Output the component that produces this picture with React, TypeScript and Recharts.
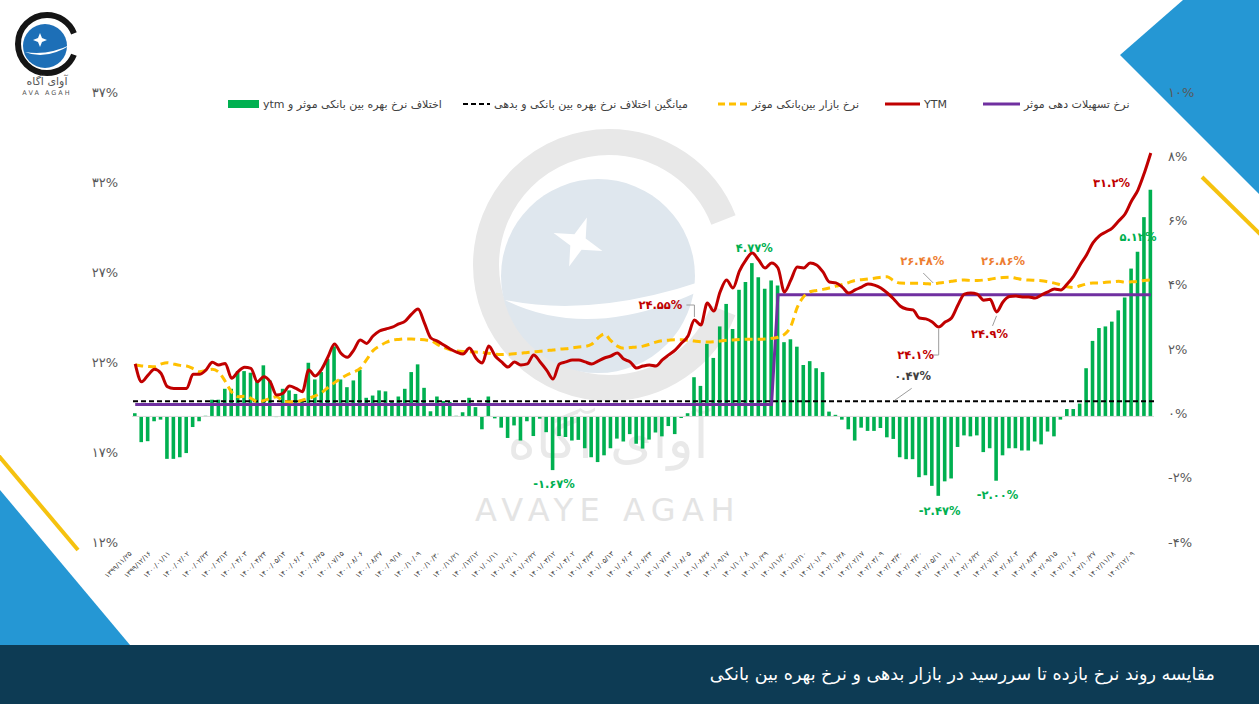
import React from "react";
import {
  ComposedChart,
  Bar,
  Line,
  XAxis,
  YAxis,
  ReferenceLine,
  ReferenceDot,
} from "recharts";

// x-axis labels, one every third weekly point
const tickLabels = [
  "۱۳۹۹/۱۱/۲۵", "۱۳۹۹/۱۲/۱۶", "۱۴۰۰/۰۱/۱۱", "۱۴۰۰/۰۲/۰۲", "۱۴۰۰/۰۲/۲۳", "۱۴۰۰/۰۳/۱۳",
  "۱۴۰۰/۰۴/۰۳", "۱۴۰۰/۰۴/۲۴", "۱۴۰۰/۰۵/۱۴", "۱۴۰۰/۰۶/۰۴", "۱۴۰۰/۰۶/۲۵", "۱۴۰۰/۰۷/۱۵",
  "۱۴۰۰/۰۸/۰۶", "۱۴۰۰/۰۸/۲۷", "۱۴۰۰/۰۹/۱۸", "۱۴۰۰/۱۰/۰۹", "۱۴۰۰/۱۰/۳۰", "۱۴۰۰/۱۱/۲۱",
  "۱۴۰۰/۱۲/۱۲", "۱۴۰۱/۰۱/۱۱", "۱۴۰۱/۰۲/۰۱", "۱۴۰۱/۰۲/۲۲", "۱۴۰۱/۰۳/۱۲", "۱۴۰۱/۰۴/۰۲",
  "۱۴۰۱/۰۴/۲۳", "۱۴۰۱/۰۵/۱۳", "۱۴۰۱/۰۶/۰۳", "۱۴۰۱/۰۶/۲۴", "۱۴۰۱/۰۷/۱۴", "۱۴۰۱/۰۸/۰۵",
  "۱۴۰۱/۰۸/۲۶", "۱۴۰۱/۰۹/۱۷", "۱۴۰۱/۱۰/۰۸", "۱۴۰۱/۱۰/۲۹", "۱۴۰۱/۱۱/۲۰", "۱۴۰۱/۱۲/۱۰",
  "۱۴۰۲/۰۱/۰۹", "۱۴۰۲/۰۱/۲۸", "۱۴۰۲/۰۲/۱۷", "۱۴۰۲/۰۳/۰۹", "۱۴۰۲/۰۳/۳۰", "۱۴۰۲/۰۴/۲۰",
  "۱۴۰۲/۰۵/۱۱", "۱۴۰۲/۰۶/۰۱", "۱۴۰۲/۰۶/۲۲", "۱۴۰۲/۰۷/۱۲", "۱۴۰۲/۰۸/۰۳", "۱۴۰۲/۰۸/۲۴",
  "۱۴۰۲/۰۹/۱۵", "۱۴۰۲/۱۰/۰۶", "۱۴۰۲/۱۰/۲۷", "۱۴۰۲/۱۱/۱۸", "۱۴۰۲/۱۲/۰۹",
];

// spread between effective interbank rate and ytm (right axis, %)
const spreadBars = [
  0.1, -0.8, -0.77, -0.15, -0.1, -1.32, -1.32, -1.27, -1.14, -0.33,
  -0.15, 0.02, 0.52, 0.52, 0.86, 0.86, 1.41, 1.41, 1.36, 1.12,
  1.59, 1.12, -0.02, 0.86, 0.81, 0.7, 0.5, 1.67, 1.15, 1.38,
  1.79, 2.18, 1.15, 0.91, 1.12, 1.45, 0.58, 0.65, 0.81, 0.78,
  0.45, 0.62, 0.86, 1.38, 1.62, 0.89, 0.16, 0.62, 0.48, 0.45,
  0.02, 0.13, 0.58, 0.29, -0.4, 0.62, -0.06, -0.35, -0.67, -0.28,
  -0.75, -0.15, -0.61, -0.07, -0.49, -1.67, -0.61, -0.64, -0.75, -0.73,
  -0.99, -1.27, -1.42, -1.21, -0.99, -0.69, -0.78, -0.55, -0.85, -1.0,
  -0.72, -0.5, -0.62, -0.3, -0.55, -0.05, 0.1, 1.22, 0.95, 2.26,
  1.82, 2.8, 3.5, 2.72, 3.94, 4.18, 4.77, 4.33, 3.97, 4.23,
  4.07, 2.31, 2.4, 2.17, 1.6, 1.72, 1.5, 1.38, 0.15, 0.05,
  -0.1, -0.4, -0.75, -0.35, -0.45, -0.45, -0.36, -0.65, -0.7, -1.27,
  -1.33, -1.33, -1.89, -1.83, -2.16, -2.47, -2.02, -1.93, -0.95, -0.59,
  -0.62, -0.59, -1.11, -0.99, -2.0, -1.21, -0.99, -0.99, -1.06, -1.06,
  -0.78, -0.87, -0.47, -0.62, -0.1, 0.23, 0.23, 0.4, 1.5, 2.35,
  2.75, 2.8, 2.95, 3.3, 3.7, 4.6, 5.12, 6.2, 7.05,
];

// YTM (left axis, %)
const ytmRates = [
  22.06, 21.07, 21.44, 21.76, 21.54, 20.8, 20.7, 20.7, 20.7, 21.48,
  21.48, 21.72, 22.15, 22.0, 22.09, 21.26, 21.63, 21.87, 21.81, 21.07,
  21.35, 21.07, 20.33, 20.43, 20.83, 20.7, 20.52, 21.72, 21.39, 21.76,
  22.46, 23.17, 22.65, 22.43, 22.83, 23.39, 23.2, 23.61, 23.89, 24.0,
  24.1, 24.28, 24.44, 24.83, 25.11, 24.33, 23.5, 23.33, 23.11, 22.89,
  22.72, 22.61, 22.94, 22.39, 22.11, 23.06, 22.5, 22.17, 21.89, 22.17,
  22.0, 22.06, 22.56, 22.17, 21.72, 21.22, 22.06, 22.17, 22.28, 22.28,
  22.17, 22.06, 22.22, 22.39, 22.5, 22.67, 22.33, 22.17, 21.83, 21.94,
  22.0, 21.94, 22.28, 22.56, 22.83, 23.22, 23.61, 24.5, 24.22, 25.44,
  25.0, 26.06, 26.72, 26.28, 27.22, 27.83, 28.22, 27.83, 27.39, 27.67,
  27.39, 26.06, 26.72, 27.44, 27.39, 27.67, 27.56, 27.17, 26.61, 26.56,
  26.33, 26.0, 26.17, 26.33, 26.5, 26.44, 26.28, 26.0, 25.67, 25.28,
  25.11, 25.06, 24.61, 24.56, 24.39, 24.11, 24.39, 24.61, 25.33, 25.94,
  26.0, 25.94, 25.6, 25.65, 24.95, 25.5, 25.8, 25.83, 25.78, 25.78,
  25.72, 25.89, 26.06, 26.22, 26.17, 26.5, 26.94, 27.56, 28.11, 28.78,
  29.17, 29.39, 29.61, 30.0, 30.39, 31.11, 31.72, 32.67, 33.78,
];

// effective interbank market rate (left axis, %)
const interbankRates = [
  22.0, 21.95, 21.92, 21.9, 22.05, 22.13, 22.05, 21.98, 21.94, 21.8,
  21.63, 21.7, 21.76, 21.6, 21.1, 20.5, 20.24, 20.27, 20.15, 19.96,
  20.02, 20.15, 20.24, 20.0, 19.96, 19.96, 20.05, 20.15, 20.28, 20.47,
  20.75, 21.02, 21.25, 21.46, 21.62, 21.81, 22.3, 22.8, 23.05, 23.25,
  23.38, 23.42, 23.45, 23.45, 23.42, 23.4, 23.35, 23.15, 22.98, 22.85,
  22.78, 22.75, 22.74, 22.72, 22.7, 22.65, 22.6, 22.58, 22.6, 22.63,
  22.65, 22.7, 22.73, 22.76, 22.8, 22.83, 22.88, 22.9, 22.95, 23.0,
  23.03, 23.15, 23.5, 23.72, 23.35, 23.05, 22.93, 22.97, 23.0, 23.05,
  23.15, 23.27, 23.35, 23.38, 23.4, 23.4, 23.38, 23.33, 23.29, 23.28,
  23.29, 23.33, 23.37, 23.39, 23.41, 23.43, 23.43, 23.43, 23.44, 23.48,
  23.54, 23.7, 24.15, 25.2, 25.8, 26.07, 26.14, 26.2, 26.28, 26.38,
  26.47, 26.58, 26.7, 26.74, 26.78, 26.82, 26.88, 26.9, 26.68, 26.55,
  26.54, 26.54, 26.54, 26.52, 26.5, 26.55, 26.6, 26.65, 26.7, 26.72,
  26.7, 26.7, 26.72, 26.77, 26.82, 26.86, 26.88, 26.82, 26.75, 26.72,
  26.7, 26.68, 26.62, 26.55, 26.45, 26.35, 26.3, 26.4, 26.5, 26.55,
  26.55, 26.6, 26.62, 26.65, 26.6, 26.62, 26.65, 26.7, 26.72,
];

// effective lending rate (left axis, %)
const lendingRates = [
  19.8, 19.8, 19.8, 19.8, 19.8, 19.8, 19.8, 19.8, 19.8, 19.8,
  19.8, 19.8, 19.8, 19.8, 19.8, 19.8, 19.8, 19.8, 19.8, 19.8,
  19.8, 19.8, 19.8, 19.8, 19.8, 19.8, 19.8, 19.8, 19.8, 19.8,
  19.8, 19.8, 19.8, 19.8, 19.8, 19.8, 19.8, 19.8, 19.8, 19.8,
  19.8, 19.8, 19.8, 19.8, 19.8, 19.8, 19.8, 19.8, 19.8, 19.8,
  19.8, 19.8, 19.8, 19.8, 19.8, 19.8, 19.8, 19.8, 19.8, 19.8,
  19.8, 19.8, 19.8, 19.8, 19.8, 19.8, 19.8, 19.8, 19.8, 19.8,
  19.8, 19.8, 19.8, 19.8, 19.8, 19.8, 19.8, 19.8, 19.8, 19.8,
  19.8, 19.8, 19.8, 19.8, 19.8, 19.8, 19.8, 19.8, 19.8, 19.8,
  19.8, 19.8, 19.8, 19.8, 19.8, 19.8, 19.8, 19.8, 19.8, 19.8,
  25.9, 25.9, 25.9, 25.9, 25.9, 25.9, 25.9, 25.9, 25.9, 25.9,
  25.9, 25.9, 25.9, 25.9, 25.9, 25.9, 25.9, 25.9, 25.9, 25.9,
  25.9, 25.9, 25.9, 25.9, 25.9, 25.9, 25.9, 25.9, 25.9, 25.9,
  25.9, 25.9, 25.9, 25.9, 25.9, 25.9, 25.9, 25.9, 25.9, 25.9,
  25.9, 25.9, 25.9, 25.9, 25.9, 25.9, 25.9, 25.9, 25.9, 25.9,
  25.9, 25.9, 25.9, 25.9, 25.9, 25.9, 25.9, 25.9, 25.9,
];

const meanSpread = 0.47;
const leftTicks = [12, 17, 22, 27, 32, 37];
const rightTicks = [-4, -2, 0, 2, 4, 6, 8, 10];

const rows = spreadBars.map((gap, i) => ({
  idx: i,
  gap,
  ytm: ytmRates[i],
  interbank: interbankRates[i],
  lending: lendingRates[i],
}));

const FONT = "'DejaVu Sans', sans-serif";
const faDigits = "۰۱۲۳۴۵۶۷۸۹";
const toFa = (v: number | string) =>
  String(v).replace(/\d/g, (d) => faDigits[Number(d)]);

const DateTick = (props: any) => {
  const { x, y, payload } = props;
  const label = tickLabels[payload.value / 3] ?? "";
  return (
    <text
      transform={`translate(${x - 3},${y + 7}) rotate(-45)`}
      textAnchor="end"
      fontSize={7}
      fill="#404040"
      fontFamily={FONT}
    >
      {label}
    </text>
  );
};

// annotation drawn at a data point, with optional grey leader
const callout =
  (text: string, color: string, dx: number, dy: number, leader?: string) =>
  (p: any) => (
    <g>
      {leader && (
        <path
          d={leader}
          transform={`translate(${p.cx},${p.cy})`}
          stroke="#9c9c9c"
          strokeWidth={1}
          fill="none"
        />
      )}
      <text
        x={p.cx + dx}
        y={p.cy + dy}
        textAnchor="middle"
        dominantBaseline="central"
        fill={color}
        fontSize={11.5}
        fontWeight="bold"
        fontFamily={FONT}
      >
        {text}
      </text>
    </g>
  );

const RED = "#c00000";
const GREEN = "#00b050";
const ORANGE = "#ed7d31";

function Decorations() {
  return (
    <svg
      width={1259}
      height={704}
      style={{ position: "absolute", left: 0, top: 0 }}
    >
      {/* corner shapes */}
      <polygon points="1183,0 1259,0 1259,194 1120,55" fill="#2597d4" />
      <line x1={1202} y1={177} x2={1262} y2={236} stroke="#f5c20f" strokeWidth={4} />
      <polygon points="0,490 130,645 0,645" fill="#2597d4" />
      <line x1={-2} y1={455} x2={78} y2={550} stroke="#f5c20f" strokeWidth={4} />

      {/* watermark */}
      <circle
        cx={609}
        cy={265}
        r={123}
        fill="none"
        stroke="#e8e8e8"
        strokeWidth={26}
        strokeDasharray="680 93"
        strokeDashoffset={-46.5}
      />
      <circle cx={598} cy={276} r={97} fill="#dfe7ee" />
      <path d="M505,300 Q610,352 752,262 Q612,322 505,300 Z" fill="#fff" />
      <path
        d="M578,216 L584,236 L604,242 L584,248 L578,268 L572,248 L552,242 L572,236 Z"
        fill="#fff"
        transform="rotate(20 578 242)"
      />
      <text
        x={608}
        y={458}
        textAnchor="middle"
        fontSize={54}
        fill="#e9e9e9"
        fontFamily={FONT}
      >
        آوای آگاه
      </text>
      <text
        x={608}
        y={521}
        textAnchor="middle"
        fontSize={32}
        letterSpacing={6.5}
        fill="#e4e4e4"
        fontFamily={FONT}
      >
        AVAYE AGAH
      </text>

      {/* logo */}
      <circle
        cx={47}
        cy={44}
        r={29}
        fill="none"
        stroke="#151515"
        strokeWidth={6}
        strokeDasharray="160 22"
        strokeDashoffset={-11}
      />
      <circle cx={45} cy={46} r={22} fill="#1d6fb7" />
      <path d="M25,52 Q46,61 72,44 Q48,56 25,52 Z" fill="#fff" />
      <path
        d="M40,33 L42,38 L47,40 L42,42 L40,47 L38,42 L33,40 L38,38 Z"
        fill="#fff"
      />
      <text x={47} y={85} textAnchor="middle" fontSize={11} fill="#555" fontFamily={FONT}>
        آوای آگاه
      </text>
      <text
        x={47}
        y={95}
        textAnchor="middle"
        fontSize={6.5}
        letterSpacing={2}
        fill="#555"
        fontFamily={FONT}
      >
        AVA AGAH
      </text>
    </svg>
  );
}

function LegendItem({
  left,
  swatch,
  label,
}: {
  left: number;
  swatch: React.ReactNode;
  label: string;
}) {
  return (
    <div
      style={{
        position: "absolute",
        left,
        top: 96,
        height: 16,
        display: "flex",
        alignItems: "center",
        gap: 4,
        fontFamily: FONT,
        fontSize: 11,
        color: "#404040",
        whiteSpace: "nowrap",
      }}
    >
      {swatch}
      <span dir="rtl">{label}</span>
    </div>
  );
}

const lineSwatch = (w: number, color: string, dash?: string, sw = 3) => (
  <svg width={w} height={8}>
    <line x1={0} y1={4} x2={w} y2={4} stroke={color} strokeWidth={sw} strokeDasharray={dash} />
  </svg>
);

const axisTick = { fontSize: 13, fill: "#595959", fontFamily: FONT, dy: -3 };

export default function App() {
  return (
    <div
      style={{
        position: "absolute",
        left: 0,
        top: 0,
        width: 1259,
        height: 704,
        background: "#fff",
        overflow: "hidden",
      }}
    >
      <Decorations />

      <div style={{ position: "absolute", left: 0, top: 0 }}>
        <ComposedChart
          width={1259}
          height={645}
          data={rows}
          margin={{ top: 95, right: 45, bottom: 30, left: 72 }}
        >
          <XAxis
            dataKey="idx"
            type="category"
            interval={2}
            tick={<DateTick />}
            tickLine={false}
            axisLine={false}
            tickSize={0}
            height={70}
          />
          <YAxis
            yAxisId="left"
            orientation="left"
            domain={[12, 37]}
            ticks={leftTicks}
            width={60}
            axisLine={false}
            tickLine={false}
            tickSize={0}
            tickMargin={14}
            tickFormatter={(v: number) => `${toFa(v)}%`}
            tick={axisTick}
          />
          <YAxis
            yAxisId="right"
            orientation="right"
            domain={[-4, 10]}
            ticks={rightTicks}
            width={60}
            axisLine={false}
            tickLine={false}
            tickSize={0}
            tickMargin={14}
            tickFormatter={(v: number) => `${toFa(v)}%`}
            tick={axisTick}
          />
          <ReferenceLine yAxisId="right" y={0} stroke="#d9d9d9" strokeWidth={1} />
          <Bar
            dataKey="gap"
            yAxisId="right"
            fill={GREEN}
            barSize={3.6}
            isAnimationActive={false}
          />
          <ReferenceLine
            yAxisId="right"
            y={meanSpread}
            stroke="#000"
            strokeWidth={2}
            strokeDasharray="5 3"
          />
          <Line
            dataKey="lending"
            yAxisId="left"
            type="linear"
            stroke="#7030a0"
            strokeWidth={3}
            dot={false}
            activeDot={false}
            isAnimationActive={false}
          />
          <Line
            dataKey="interbank"
            yAxisId="left"
            type="monotone"
            stroke="#ffc000"
            strokeWidth={3}
            strokeDasharray="8 5"
            dot={false}
            activeDot={false}
            isAnimationActive={false}
          />
          <Line
            dataKey="ytm"
            yAxisId="left"
            type="monotone"
            stroke={RED}
            strokeWidth={3}
            dot={false}
            activeDot={false}
            isAnimationActive={false}
          />

          <ReferenceDot yAxisId="left" x={87} y={ytmRates[87]} r={0}
            shape={callout("۲۴.۵۵%", RED, -34, -15, "M-8,-15H0V-3")} />
          <ReferenceDot yAxisId="right" x={96} y={spreadBars[96]} r={0}
            shape={callout("۴.۷۷%", GREEN, 2, -15)} />
          <ReferenceDot yAxisId="left" x={124} y={interbankRates[124]} r={0}
            shape={callout("۲۶.۴۸%", ORANGE, -10, -23, "M-9,-11L1,-1")} />
          <ReferenceDot yAxisId="left" x={135} y={interbankRates[135]} r={0}
            shape={callout("۲۶.۸۶%", ORANGE, 0, -17)} />
          <ReferenceDot yAxisId="left" x={125} y={ytmRates[125]} r={0}
            shape={callout("۲۴.۱%", RED, -23, 28, "M-6,28H0V2")} />
          <ReferenceDot yAxisId="left" x={134} y={ytmRates[134]} r={0}
            shape={callout("۲۴.۹%", RED, -7, 22, "M-4,14L0,4")} />
          <ReferenceDot yAxisId="right" x={118} y={meanSpread} r={0}
            shape={callout("۰.۴۷%", "#404040", 19, -25, "M18,-13L1,-1")} />
          <ReferenceDot yAxisId="right" x={65} y={spreadBars[65]} r={0}
            shape={callout("-۱.۶۷%", GREEN, 1, 14)} />
          <ReferenceDot yAxisId="right" x={125} y={spreadBars[125]} r={0}
            shape={callout("-۲.۴۷%", GREEN, 1, 15)} />
          <ReferenceDot yAxisId="right" x={134} y={spreadBars[134]} r={0}
            shape={callout("-۲.۰۰%", GREEN, 1, 14)} />
          <ReferenceDot yAxisId="left" x={155} y={ytmRates[155]} r={0}
            shape={callout("۳۱.۲%", RED, -20, -18)} />
          <ReferenceDot yAxisId="right" x={156} y={spreadBars[156]} r={0}
            shape={callout("۵.۱۲%", GREEN, 0, -15)} />
        </ComposedChart>
      </div>

      <LegendItem
        left={228}
        swatch={<div style={{ width: 31, height: 8, background: GREEN }} />}
        label="اختلاف نرخ بهره بین بانکی موثر و ytm"
      />
      <LegendItem
        left={463}
        swatch={lineSwatch(27, "#000", "5 3", 2)}
        label="میانگین اختلاف نرخ بهره بین بانکی و بدهی"
      />
      <LegendItem
        left={718}
        swatch={lineSwatch(30, "#ffc000", "7 4")}
        label="نرخ بازار بین‌بانکی موثر"
      />
      <LegendItem left={885} swatch={lineSwatch(35, RED)} label="YTM" />
      <LegendItem
        left={983}
        swatch={lineSwatch(37, "#7030a0")}
        label="نرخ تسهیلات دهی موثر"
      />

      <div
        dir="rtl"
        style={{
          position: "absolute",
          left: 0,
          top: 645,
          width: 1259,
          height: 59,
          background: "#0d3b54",
          color: "#fff",
          fontFamily: FONT,
          fontSize: 17.5,
          lineHeight: "59px",
          paddingRight: 44,
          boxSizing: "border-box",
        }}
      >
        مقایسه روند نرخ بازده تا سررسید در بازار بدهی و نرخ بهره بین بانکی
      </div>
    </div>
  );
}
